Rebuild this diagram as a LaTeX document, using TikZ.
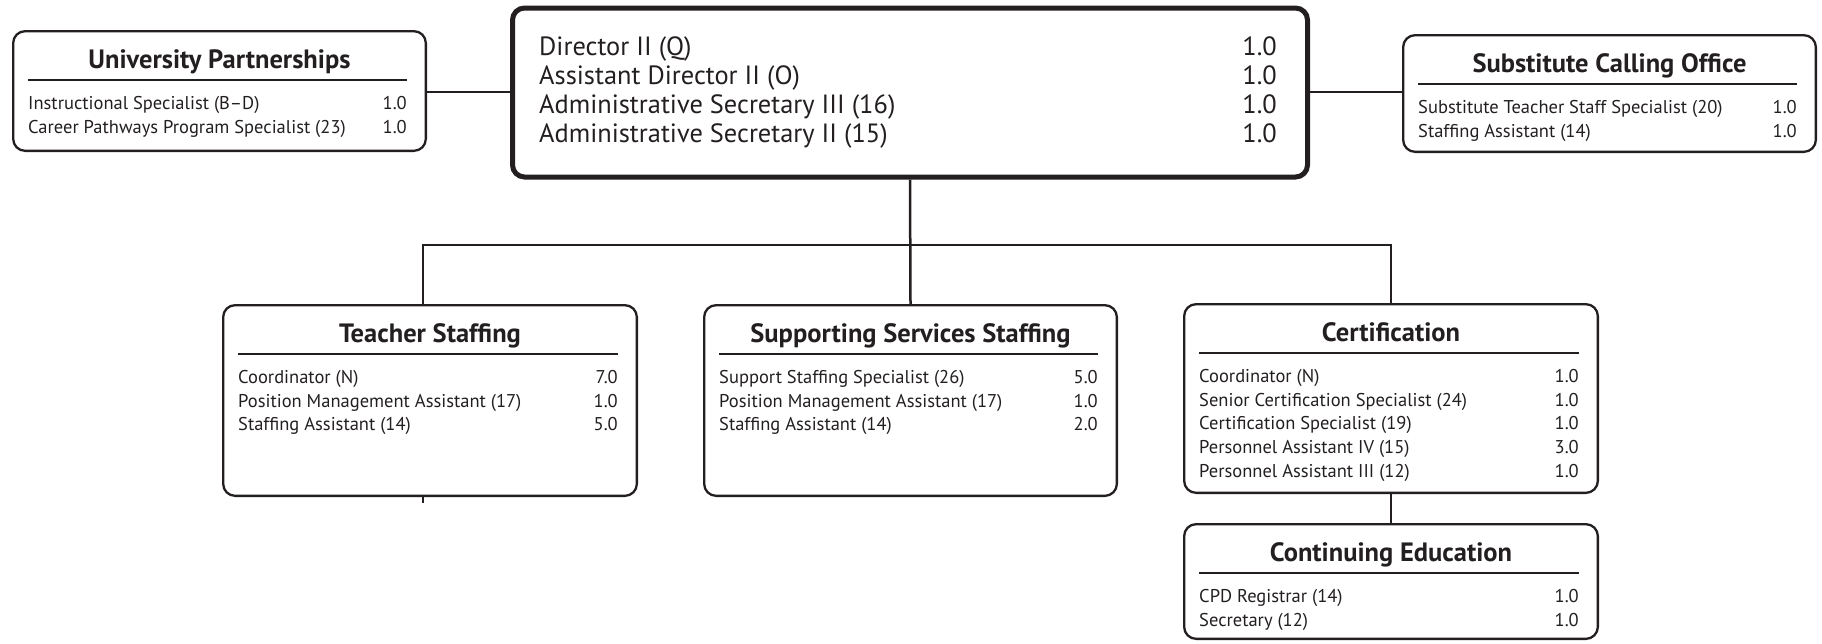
\documentclass[tikz,border=0pt]{standalone}
\usepackage{fontspec}
\setmainfont{PT Sans}
\definecolor{ink}{HTML}{231F20}
\newcommand\orgbox[7]{%
  \node[box, minimum width={#4-#2-2.3}, minimum height={#5-#3-2.3}] (#1) at ({(#2+#4)/2},{(#3+#5)/2}) {};
  \node[ttl] (#1-t) at ({(#2+#4)/2},{#3+29+9}) {#6};
  \draw[hrule] ({#2+16},{#3+50}) -- ({#4-20},{#3+50});
  \foreach \lab/\val [count=\i] in {#7} {
    \node[rowl] (#1-l\i) at ({#2+16},{#3+73+6.5+23.7*(\i-1)}) {\lab};
    \node[rowr] (#1-r\i) at ({#4-20},{#3+73+6.5+23.7*(\i-1)}) {\val};
  }%
}
\begin{document}
\begin{tikzpicture}[x=1pt,y=-1pt,
  box/.style={draw=ink, line width=2.3pt, rounded corners=12pt, inner sep=0pt},
  bigbox/.style={draw=ink, line width=5pt, rounded corners=12pt, inner sep=0pt},
  conn/.style={draw=ink, line width=2.5pt},
  hrule/.style={draw=ink, line width=1.2pt},
  ttl/.style={anchor=base, inner sep=0pt, text=ink, font=\fontsize{26.5}{30}\bfseries\selectfont},
  rowl/.style={anchor=base west, inner sep=0pt, text=ink, font=\fontsize{18.5}{22}\selectfont},
  rowr/.style={anchor=base east, inner sep=0pt, text=ink, font=\fontsize{18.5}{22}\selectfont},
  bigl/.style={anchor=base west, inner sep=0pt, text=ink, font=\fontsize{26.4}{30}\selectfont},
  bigr/.style={anchor=base east, inner sep=0pt, text=ink, font=\fontsize{26.4}{30}\selectfont}]
\useasboundingbox (0,0) rectangle (1822,643);

% main box
\node[bigbox, minimum width=795, minimum height=169] (main) at (910,92.5) {};
\foreach \lab/\val/\y [count=\i] in {Director II (Q)/1.0/55.5, Assistant Director II (O)/1.0/84.5, Administrative Secretary III (16)/1.0/113.5, Administrative Secretary II (15)/1.0/142.5} {
  \node[bigl] (main-l\i) at (539,\y) {\lab};
  \node[bigr] (main-r\i) at (1277,\y) {\val};
}

\orgbox{up}{12}{30}{427}{152}{University Partnerships}{Instructional Specialist (B\textendash D)/1.0, Career Pathways Program Specialist (23)/1.0}
\orgbox{sco}{1402}{34}{1817}{153}{Substitute Calling Office}{Substitute Teacher Staff Specialist (20)/1.0, Staffing Assistant (14)/1.0}
\orgbox{ts}{222}{304}{638}{497}{Teacher Staffing}{Coordinator (N)/7.0, Position Management Assistant (17)/1.0, Staffing Assistant (14)/5.0}
\orgbox{sss}{703}{304}{1118}{497}{Supporting Services Staffing}{Support Staffing Specialist (26)/5.0, Position Management Assistant (17)/1.0, Staffing Assistant (14)/2.0}
\orgbox{cert}{1183}{303}{1599}{494}{Certification}{Coordinator (N)/1.0, Senior Certification Specialist (24)/1.0, Certification Specialist (19)/1.0, Personnel Assistant IV (15)/3.0, Personnel Assistant III (12)/1.0}
\orgbox{ce}{1183}{523}{1599}{640}{Continuing Education}{CPD Registrar (14)/1.0, Secretary (12)/1.0}

% connectors
\coordinate (busL) at (423,245);
\coordinate (busR) at (1391,245);
\draw[conn] (up.east |- 0,92) -- (main.west |- 0,92);
\draw[conn] (main.east |- 0,92) -- (sco.west |- 0,92);
\draw[conn] (main.south) -- (sss.north);
\draw[conn] (busL |- ts.north) -- (busL) -- (busR) -- (cert.north);
\draw[conn] (cert.south) -- (ce.north);
\draw[conn] (busL |- ts.south) -- ++(0,6);
\end{tikzpicture}
\end{document}
